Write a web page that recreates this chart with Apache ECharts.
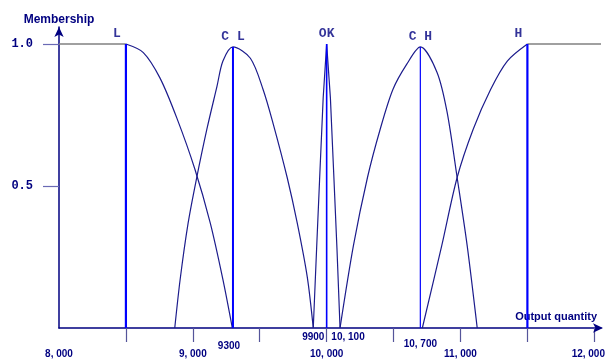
<!DOCTYPE html>
<html>
<head>
<meta charset="utf-8">
<title>Membership functions</title>
<script src="https://cdn.jsdelivr.net/npm/echarts@6/dist/echarts.min.js"></script>
<style>
html, body { margin: 0; padding: 0; background: #fff; }
#chart { width: 605px; height: 360px; }
</style>
</head>
<body>
<div id="chart"></div>
<script>
// the five fuzzy sets and where they peak
var setNames = ['L', 'C L', 'OK', 'C H', 'H'];
var peakX = [8500, 9300, 10000, 10700, 11500];
var peakY = [1, 0.99, 1, 0.99, 1];

// points: [output quantity, membership]
var curveL = [[8500, 1], [8630, 0.97], [8755, 0.88], [8880, 0.74], [9015, 0.56], [9130, 0.37], [9225, 0.17], [9295, 0]];
var curveCL = [[8865, 0], [8905, 0.17], [8965, 0.37], [9025, 0.52], [9105, 0.70], [9180, 0.85], [9225, 0.94], [9300, 0.99],
               [9430, 0.95], [9525, 0.84], [9600, 0.72], [9705, 0.53], [9780, 0.37], [9855, 0.18], [9900, 0]];
var curveOK = [[9900, 0], [9925, 0.28], [9947, 0.52], [9974, 0.81], [10000, 1], [10028, 0.81], [10055, 0.52], [10077, 0.28], [10100, 0]];
var curveCH = [[10100, 0], [10200, 0.29], [10305, 0.53], [10400, 0.70], [10495, 0.84], [10600, 0.93], [10700, 0.99],
               [10825, 0.90], [10900, 0.76], [10975, 0.53], [11050, 0.29], [11125, 0]];
var curveH = [[10715, 0], [10860, 0.29], [10975, 0.53], [11095, 0.70], [11225, 0.84], [11350, 0.94], [11500, 1]];
var flatL = [[8000, 1], [8500, 1]];
var flatH = [[11500, 1], [12050, 1]];

// axis ticks and labels
var xTickValues = [8500, 9000, 9500, 10000, 10500, 11000, 11500, 12000];
var xLabelValues = [8000, 9000, 10000, 11000, 12000, 9300, 9900, 10100, 10700];
var xLabelText = { 8000: '8, 000', 9000: '9, 000', 10000: '10, 000', 11000: '11, 000', 12000: '12, 000',
                   9300: '9300', 9900: '9900', 10100: '10, 100', 10700: '10, 700' };
var yTickValues = [0.5, 1.0];

var navy = '#000080';
var labelRow = { 9300: 'a', 9900: 'b', 10100: 'd', 10700: 'c', 12000: 'e' };
var lineWidths = [2.2, 2, 1.6, 1.2, 2.2];
var nameShift = [[-9, 0], [0, 0], [0, 0], [0, 0], [-9, 0]];

var series = [];
[curveL, curveCL, curveCH, curveH].forEach(function (c) {
    series.push({ type: 'line', data: c, smooth: 0.3, showSymbol: false,
                  lineStyle: { color: '#1c1c8c', width: 1.2 } });
});
series.push({ type: 'line', data: curveOK, showSymbol: false, lineStyle: { color: '#1c1c8c', width: 1.2 } });
[flatL, flatH].forEach(function (c) {
    series.push({ type: 'line', data: c, showSymbol: false, clip: false,
                  lineStyle: { color: '#808080', width: 1.6 } });
});
peakX.forEach(function (x, i) {
    series.push({ type: 'line', data: [[x, 0], [x, peakY[i]]], showSymbol: false,
                  lineStyle: { color: '#0000ff', width: lineWidths[i] } });
});
series.push({
    type: 'scatter', symbolSize: 1, itemStyle: { color: 'rgba(0,0,0,0)' },
    data: peakX.map(function (x, i) {
        return { value: [x, peakY[i]], label: { offset: nameShift[i] } };
    }),
    label: {
        show: true, position: 'top', distance: 3,
        formatter: function (p) { return setNames[p.dataIndex]; },
        color: navy, fontFamily: 'Liberation Mono', fontWeight: 'bold', fontSize: 13
    }
});

var txt = { color: navy, fontFamily: 'Liberation Sans', fontWeight: 'bold', fontSize: 10 };
function rowStyle(pad) { return Object.assign({ padding: pad }, txt); }

var chart = echarts.init(document.getElementById('chart'), null, { renderer: 'canvas' });
chart.setOption({
    animation: false,
    backgroundColor: '#fff',
    grid: { left: 59, right: 4, top: 27, bottom: 32, outerBoundsMode: 'none' },
    xAxis: {
        type: 'value', min: 8000, max: 12050,
        name: 'Output quantity', nameLocation: 'end', nameGap: -4,
        nameTextStyle: { color: navy, fontFamily: 'Liberation Sans', fontWeight: 'bold', fontSize: 11,
                         align: 'right', verticalAlign: 'bottom', padding: [0, 0, 6, 0] },
        axisLine: { lineStyle: { color: navy, width: 1.5 }, symbol: ['none', 'arrow'], symbolSize: [7, 10], symbolOffset: [0, 2] },
        axisTick: { show: true, length: 14, customValues: xTickValues, lineStyle: { color: '#55559a', width: 1.2 } },
        axisLabel: {
            customValues: xLabelValues, margin: 4, hideOverlap: false,
            formatter: function (v) { return '{' + (labelRow[v] || 'm') + '|' + xLabelText[v] + '}'; },
            rich: {
                m: rowStyle([17, 0, 0, 0]),
                a: rowStyle([9, 8, 0, 0]),
                b: rowStyle([0, 0, 0, 0]),
                c: rowStyle([7, 0, 0, 0]),
                d: rowStyle([0, 0, 0, 16]),
                e: rowStyle([17, 12, 0, 0])
            }
        },
        splitLine: { show: false }
    },
    yAxis: {
        type: 'value', min: 0, max: 1.06,
        name: 'Membership', nameLocation: 'end', nameGap: 1,
        nameTextStyle: { color: navy, fontFamily: 'Liberation Sans', fontWeight: 'bold', fontSize: 12 },
        axisLine: { show: true, lineStyle: { color: navy, width: 1.5 }, symbol: ['none', 'arrow'], symbolSize: [7, 10], symbolOffset: [0, 0] },
        axisTick: { show: true, length: 16, customValues: yTickValues, lineStyle: { color: '#6a6ab4', width: 1.2 } },
        axisLabel: {
            customValues: yTickValues, margin: 26,
            formatter: function (v) { return v.toFixed(1); },
            color: navy, fontFamily: 'Liberation Mono', fontWeight: 'bold', fontSize: 12
        },
        splitLine: { show: false }
    },
    series: series
});
</script>
</body>
</html>
